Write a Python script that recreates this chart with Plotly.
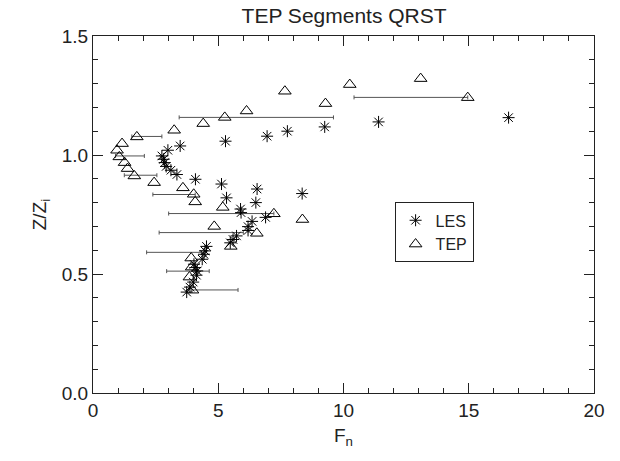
import plotly.graph_objects as go

# LES (asterisks)
les_x = [16.59, 11.40, 9.25, 7.76, 6.95, 5.29, 3.48,
         2.99, 2.75, 2.82, 2.86, 2.92, 3.11, 3.35,
         4.09, 5.13, 6.55, 8.35, 5.33, 6.50, 5.89, 5.91, 6.89, 6.35, 6.19, 6.19, 5.73, 5.59, 5.48,
         4.53, 4.47, 4.43, 4.36, 4.03, 4.08, 4.16, 4.13, 4.00, 3.87, 3.74]
les_y = [1.157, 1.139, 1.118, 1.100, 1.079, 1.058, 1.038,
         1.020, 0.996, 0.982, 0.968, 0.952, 0.936, 0.918,
         0.898, 0.878, 0.857, 0.838, 0.820, 0.800, 0.773, 0.758, 0.738, 0.721, 0.699, 0.683, 0.660, 0.645, 0.631,
         0.616, 0.597, 0.583, 0.562, 0.541, 0.527, 0.513, 0.495, 0.466, 0.445, 0.424]

# TEP (triangles)
tep_x = [14.96, 13.08, 10.25, 9.28, 7.66, 6.13, 5.26, 4.40, 3.24, 1.75, 1.16, 0.96, 1.05, 1.26, 1.38,
         1.65, 2.44, 3.59, 4.02, 4.08, 8.36, 5.18, 7.22, 4.84, 6.54, 5.50, 3.92, 3.94, 3.85, 3.97]
tep_y = [1.241, 1.321, 1.296, 1.216, 1.268, 1.185, 1.158, 1.132, 1.104, 1.076, 1.048, 1.020, 0.992, 0.968, 0.943,
         0.912, 0.884, 0.862, 0.835, 0.803, 0.729, 0.780, 0.753, 0.700, 0.671, 0.616, 0.567, 0.529, 0.487, 0.432]

# TEP segment ranges (horizontal bars)
bar_y = [1.242, 1.158, 1.078, 0.996, 0.915, 0.834, 0.754, 0.674, 0.591, 0.512, 0.433]
bar_lo = [10.42, 3.44, 1.55, 0.90, 1.25, 2.39, 3.02, 2.64, 2.14, 2.94, 3.94]
bar_hi = [14.96, 9.60, 2.75, 2.05, 2.55, 4.08, 7.22, 6.00, 4.33, 4.64, 5.79]

x_ticks = [0, 5, 10, 15, 20]
y_ticks = [0.0, 0.5, 1.0, 1.5]
y_tick_text = ["0.0", "0.5", "1.0", "1.5"]
x_range = [0, 20]
y_range = [0, 1.5]

FONT = "Liberation Sans"
INK = "#222222"

bar_mid = [(a + b) / 2 for a, b in zip(bar_lo, bar_hi)]
bar_half = [(b - a) / 2 for a, b in zip(bar_lo, bar_hi)]

fig = go.Figure()
fig.add_trace(go.Scatter(
    x=bar_mid, y=bar_y, mode="markers",
    marker=dict(size=1, opacity=0),
    error_x=dict(type="data", array=bar_half, symmetric=True,
                 color="#555555", thickness=1, width=2),
    showlegend=False, hoverinfo="skip"))
fig.add_trace(go.Scatter(
    x=les_x, y=les_y, mode="markers", name="LES",
    marker=dict(symbol="asterisk-open", size=10, color="black",
                line=dict(width=1, color="black"))))
fig.add_trace(go.Scatter(
    x=tep_x, y=tep_y, mode="markers", name="TEP",
    marker=dict(symbol="triangle-up-open", size=11, color="black",
                line=dict(width=1, color="black"))))
# empty trace to carry the mirrored (top/right) tick axes
fig.add_trace(go.Scatter(x=[], y=[], xaxis="x2", yaxis="y2",
                         showlegend=False, hoverinfo="skip"))

tick_common = dict(
    ticks="inside", ticklen=10, tickcolor=INK, tickwidth=1,
    showgrid=False, zeroline=False,
)

fig.update_layout(
    width=620, height=461,
    margin=dict(l=93, r=26, t=36, b=68),
    plot_bgcolor="white", paper_bgcolor="white",
    title=dict(text="TEP Segments QRST", x=0.555, xanchor="center",
               y=1 - 16 / 461, yanchor="middle", yref="container",
               font=dict(family=FONT, size=21, color=INK)),
    xaxis=dict(range=x_range, tickvals=x_ticks,
               showline=True, linecolor=INK, linewidth=1, mirror=True,
               minor=dict(dtick=1, ticks="inside", ticklen=5, tickcolor=INK),
               tickfont=dict(family=FONT, size=19, color=INK),
               title=dict(text="F<sub>n</sub>", font=dict(family=FONT, size=19, color=INK), standoff=8),
               **tick_common),
    yaxis=dict(range=y_range, tickvals=y_ticks, ticktext=y_tick_text,
               showline=True, linecolor=INK, linewidth=1, mirror=True,
               minor=dict(dtick=0.1, ticks="inside", ticklen=5, tickcolor=INK),
               tickfont=dict(family=FONT, size=19, color=INK),
               title=dict(text="Z/Z<sub>i</sub>", font=dict(family=FONT, size=19, color=INK), standoff=10),
               **tick_common),
    xaxis2=dict(range=x_range, tickvals=x_ticks, overlaying="x", side="top",
                showticklabels=False, showline=False,
                minor=dict(dtick=1, ticks="inside", ticklen=5, tickcolor=INK),
                **tick_common),
    yaxis2=dict(range=y_range, tickvals=y_ticks, overlaying="y", side="right",
                showticklabels=False, showline=False,
                minor=dict(dtick=0.1, ticks="inside", ticklen=5, tickcolor=INK),
                **tick_common),
    legend=dict(x=0.602, y=0.534, xanchor="left", yanchor="top",
                bordercolor=INK, borderwidth=1, bgcolor="white",
                font=dict(family=FONT, size=16, color=INK),
                itemwidth=30, tracegroupgap=0),
)
fig.write_html("out.html")
